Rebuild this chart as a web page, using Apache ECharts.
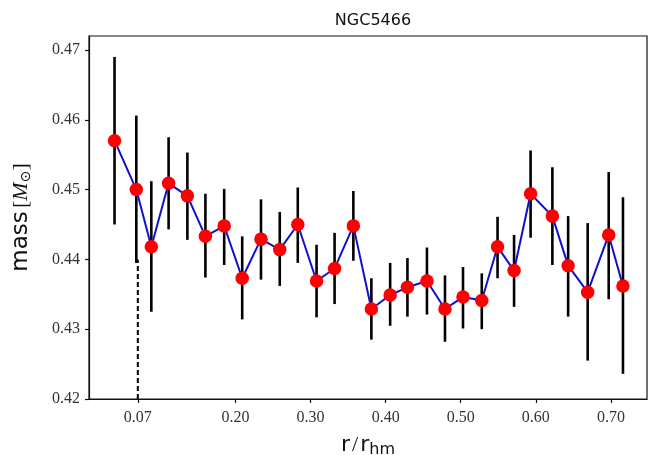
<!DOCTYPE html>
<html>
<head>
<meta charset="utf-8">
<script src="https://cdn.jsdelivr.net/npm/echarts/dist/echarts.min.js"></script>
<style>
  html, body { margin: 0; padding: 0; background: #fff; }
  #chart { width: 651px; height: 455px; }
</style>
</head>
<body>
<div id="chart"></div>
<script>
// ---- data ----
const titleText = 'NGC5466';
const radius = [0.039, 0.068, 0.088, 0.111, 0.136, 0.160, 0.185, 0.209, 0.234, 0.259, 0.283, 0.308, 0.332, 0.357, 0.381, 0.406, 0.429, 0.455, 0.479, 0.503, 0.528, 0.549, 0.571, 0.593, 0.622, 0.643, 0.669, 0.697, 0.716];
const massMean = [0.4570, 0.4500, 0.4418, 0.4509, 0.4491, 0.4433, 0.4448, 0.4373, 0.4429, 0.4414, 0.4450, 0.4369, 0.4387, 0.4448, 0.4329, 0.4349, 0.4360, 0.4369, 0.4329, 0.4346, 0.4341, 0.4418, 0.4384, 0.4494, 0.4462, 0.4391, 0.4353, 0.4435, 0.4362];
const massUpper = [0.4690, 0.4606, 0.4512, 0.4575, 0.4553, 0.4494, 0.4501, 0.4433, 0.4486, 0.4468, 0.4503, 0.4421, 0.4438, 0.4498, 0.4373, 0.4395, 0.4402, 0.4417, 0.4377, 0.4389, 0.4380, 0.4461, 0.4435, 0.4556, 0.4532, 0.4462, 0.4452, 0.4525, 0.4489];
const massLower = [0.4450, 0.4395, 0.4325, 0.4443, 0.4428, 0.4374, 0.4392, 0.4314, 0.4371, 0.4362, 0.4395, 0.4317, 0.4336, 0.4398, 0.4285, 0.4305, 0.4318, 0.4321, 0.4282, 0.4301, 0.4300, 0.4373, 0.4332, 0.4431, 0.4392, 0.4318, 0.4255, 0.4343, 0.4236];
const cutoffLine = [[0.07, 0.42], [0.07, 0.44]];
const xTickValues = [0.07, 0.20, 0.30, 0.40, 0.50, 0.60, 0.70];
const yTickValues = [0.42, 0.43, 0.44, 0.45, 0.46, 0.47];

const chart = echarts.init(document.getElementById('chart'), null, { renderer: 'canvas' });
const serif = "'Liberation Serif', 'DejaVu Serif', serif";
const sans = "'DejaVu Sans', sans-serif";

const option = {
  animation: false,
  backgroundColor: '#fff',
  title: {
    text: titleText,
    left: 368, top: 8, textAlign: 'center',
    textStyle: { fontFamily: sans, fontSize: 16, fontWeight: 'normal', color: '#111' }
  },
  grid: {
    left: 89, right: 4, top: 36, bottom: 56,
    outerBoundsMode: 'none', containLabel: false,
    show: true, borderColor: '#111', borderWidth: 1.2, backgroundColor: 'transparent'
  },
  xAxis: {
    type: 'value', min: 0.005, max: 0.748,
    splitLine: { show: false },
    axisLine: { show: true, onZero: false, lineStyle: { color: '#111', width: 1.2 } },
    axisTick: { show: true, customValues: xTickValues, length: 4, lineStyle: { color: '#111', width: 1.2 } },
    axisLabel: {
      customValues: xTickValues, margin: 11,
      fontFamily: serif, fontSize: 16, color: '#333',
      formatter: v => v.toFixed(2)
    },
    name: '{a|r}{s|/}{a|r}{sub|hm}',
    nameLocation: 'middle', nameGap: 32,
    nameTextStyle: {
      rich: {
        a: { fontFamily: sans, fontSize: 22, color: '#111', lineHeight: 26 },
        s: { fontFamily: serif, fontSize: 22, color: '#111', lineHeight: 26, padding: [0, 2, 0, 2] },
        sub: { fontFamily: sans, fontSize: 16, color: '#111', lineHeight: 16, verticalAlign: 'bottom', padding: [11, 0, 0, 0] }
      }
    }
  },
  yAxis: {
    type: 'value', min: 0.42, max: 0.472,
    splitLine: { show: false },
    axisLine: { show: true, lineStyle: { color: '#111', width: 1.2 } },
    axisTick: { show: true, customValues: yTickValues, length: 4, lineStyle: { color: '#111', width: 1.2 } },
    axisLabel: {
      customValues: yTickValues, margin: 9,
      fontFamily: serif, fontSize: 16, color: '#333',
      formatter: v => v.toFixed(2)
    },
    name: '{a|mass} {b|[}{c|M}{d|⊙}{b|]}',
    nameLocation: 'middle', nameGap: 56, nameRotate: 90,
    nameTextStyle: {
      rich: {
        a: { fontFamily: sans, fontSize: 23, color: '#111' },
        b: { fontFamily: serif, fontSize: 22, color: '#111' },
        c: { fontFamily: serif, fontSize: 22, fontStyle: 'italic', color: '#111' },
        d: { fontFamily: sans, fontSize: 14, color: '#111', verticalAlign: 'bottom' }
      }
    }
  },
  series: [
    {
      type: 'custom',
      z: 1,
      data: radius.map((x, i) => [x, massLower[i], massUpper[i]]),
      encode: { x: 0, y: [1, 2] },
      renderItem: function (params, api) {
        const x = api.value(0);
        const p1 = api.coord([x, api.value(1)]);
        const p2 = api.coord([x, api.value(2)]);
        return {
          type: 'line',
          shape: { x1: p1[0], y1: p1[1], x2: p2[0], y2: p2[1] },
          style: { stroke: '#000', lineWidth: 2.6 }
        };
      }
    },
    {
      type: 'line',
      z: 2,
      data: cutoffLine,
      symbol: 'none',
      lineStyle: { color: '#000', width: 2, type: [5, 3] }
    },
    {
      type: 'line',
      z: 3,
      data: radius.map((x, i) => [x, massMean[i]]),
      symbol: 'circle', symbolSize: 13.5,
      lineStyle: { color: '#1010cc', width: 2 },
      itemStyle: { color: '#ff0000', borderWidth: 0 }
    }
  ]
};
chart.setOption(option);
</script>
</body>
</html>
